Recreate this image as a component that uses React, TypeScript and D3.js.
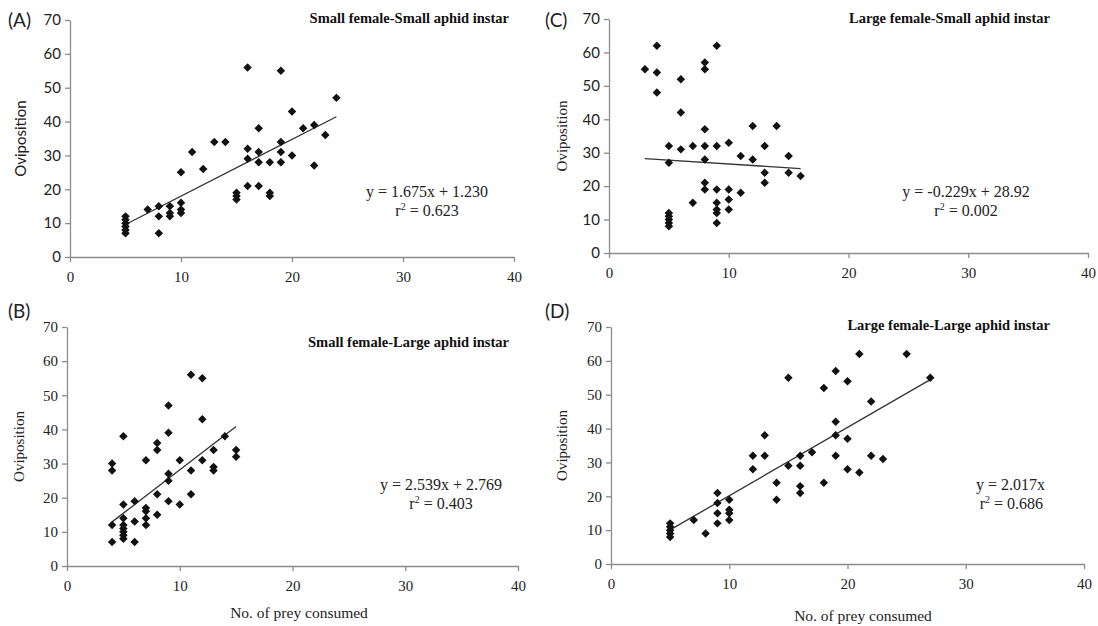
import React, { useEffect, useRef } from 'react';
import * as d3 from 'd3';

// points as [prey consumed, oviposition]
const pointsA = [
  [5, 12], [5, 11], [5, 10], [5, 9], [5, 8], [5, 7], [7, 14], [8, 15], [8, 12], [8, 7],
  [9, 15], [9, 13], [9, 12], [10, 16], [10, 14], [10, 13], [10, 25], [11, 31], [12, 26],
  [13, 34], [14, 34], [15, 19], [15, 18], [15, 17], [16, 56], [16, 32], [16, 29], [16, 21],
  [17, 38], [17, 31], [17, 28], [17, 21], [18, 28], [18, 19], [18, 18], [19, 55], [19, 34],
  [19, 31], [19, 28], [20, 43], [20, 30], [21, 38], [22, 39], [22, 27], [23, 36], [24, 47],
];
const pointsB = [
  [4, 30], [4, 28], [4, 12], [4, 7], [5, 38], [5, 18], [5, 14], [5, 12], [5, 11], [5, 10],
  [5, 9], [5, 8], [6, 19], [6, 13], [6, 7], [7, 31], [7, 17], [7, 16], [7, 14], [7, 12],
  [8, 36], [8, 34], [8, 21], [8, 15], [9, 47], [9, 39], [9, 27], [9, 25], [9, 19], [10, 31],
  [10, 18], [11, 56], [11, 28], [11, 21], [12, 55], [12, 43], [12, 31], [13, 34], [13, 29],
  [13, 28], [14, 38], [15, 34], [15, 32],
];
const pointsC = [
  [3, 55], [4, 62], [4, 54], [4, 48], [5, 32], [5, 27], [5, 12], [5, 11], [5, 10], [5, 9],
  [5, 8], [6, 52], [6, 42], [6, 31], [7, 32], [7, 15], [8, 57], [8, 55], [8, 37], [8, 32],
  [8, 28], [8, 21], [8, 19], [9, 62], [9, 32], [9, 19], [9, 15], [9, 13], [9, 12], [9, 9],
  [10, 33], [10, 19], [10, 16], [10, 13], [11, 29], [11, 18], [12, 38], [12, 28], [13, 32],
  [13, 24], [13, 21], [14, 38], [15, 29], [15, 24], [16, 23],
];
const pointsD = [
  [5, 12], [5, 11], [5, 10], [5, 9], [5, 8], [7, 13], [8, 9], [9, 21], [9, 18], [9, 15],
  [9, 12], [10, 19], [10, 16], [10, 15], [10, 13], [12, 32], [12, 28], [13, 38], [13, 32],
  [14, 24], [14, 19], [15, 55], [15, 29], [16, 32], [16, 29], [16, 23], [16, 21], [17, 33],
  [18, 52], [18, 24], [19, 57], [19, 42], [19, 38], [19, 32], [20, 54], [20, 37], [20, 28],
  [21, 62], [21, 27], [22, 48], [22, 32], [23, 31], [25, 62], [27, 55],
];

// trend lines: slope, intercept, x range
const fitA = { slope: 1.675, intercept: 1.23, from: 5, to: 24 };
const fitB = { slope: 2.539, intercept: 2.769, from: 4, to: 15 };
const fitC = { slope: -0.229, intercept: 28.92, from: 3, to: 16 };
const fitD = { slope: 2.017, intercept: 0, from: 5, to: 27 };

const xTicks = [0, 10, 20, 30, 40];
const yTicks = [0, 10, 20, 30, 40, 50, 60, 70];

const SERIF = '"Liberation Serif", "Times New Roman", serif';
const SANS = 'Lato, "Liberation Sans", sans-serif';

const Panel = ({ letter, title, points, fit, eq, r2, box, yFont, ovFont, showXLabel, layout }) => {
  const xRef = useRef(null);
  const yRef = useRef(null);

  const xScale = d3.scaleLinear().domain([0, 40]).range([box.left, box.right]);
  const yScale = d3.scaleLinear().domain([0, 70]).range([box.bottom, box.top]);

  useEffect(() => {
    const xAxis = d3.axisBottom(xScale).tickValues(xTicks).tickSize(5).tickSizeOuter(0).tickPadding(9);
    const yAxis = d3.axisLeft(yScale).tickValues(yTicks).tickSize(5).tickSizeOuter(0).tickPadding(4);
    const gx = d3.select(xRef.current).call(xAxis).attr('font-family', SERIF);
    const gy = d3.select(yRef.current).call(yAxis).attr('font-family', yFont);
    [gx, gy].forEach(g => {
      g.select('.domain').attr('stroke', '#8c8c8c').attr('stroke-width', 1.3);
      g.selectAll('.tick line').attr('stroke', '#8c8c8c').attr('stroke-width', 1.3);
      g.selectAll('.tick text').attr('fill', '#222').attr('font-size', 15);
    });
    gx.selectAll('.tick text').style('font-family', SERIF);
    gy.selectAll('.tick text').style('font-family', yFont);
  });

  const diamond = d3.symbol(d3.symbolSquare, 36)();
  const line = d3
    .line()
    .x(d => xScale(d))
    .y(d => yScale(fit.slope * d + fit.intercept));

  return (
    <g>
      <text x={layout.letterX} y={layout.letterY} fontFamily={SANS} fontSize={19} fill='#222'>
        {letter}
      </text>
      <text
        transform={`translate(${layout.ovX}, ${(box.top + box.bottom) / 2}) rotate(-90)`}
        textAnchor='middle'
        style={{ fontFamily: ovFont }}
        fontSize={15}
        fill='#222'
      >
        Oviposition
      </text>
      <text x={layout.titleX} y={layout.titleY} textAnchor='end' fontFamily={SERIF} fontWeight='bold' fontSize={14.5} fill='#111'>
        {title}
      </text>
      <g ref={xRef} transform={`translate(0, ${box.bottom})`} />
      <g ref={yRef} transform={`translate(${box.left}, 0)`} />
      <path d={line([fit.from, fit.to])} stroke='#333' strokeWidth={1.3} fill='none' />
      {points.map((d, i) => (
        <path
          key={`pt-${i}`}
          d={diamond}
          transform={`translate(${xScale(d[0])}, ${yScale(d[1])}) rotate(45)`}
          fill='#111'
        />
      ))}
      <text x={layout.eqX} y={layout.eqY} textAnchor={layout.eqAnchor} fontFamily={SERIF} fontSize={16} fill='#222'>
        {eq}
      </text>
      <text x={layout.r2X} y={layout.eqY + 19} textAnchor={layout.eqAnchor} fontFamily={SERIF} fontSize={16} fill='#222'>
        r<tspan fontSize={10} dy={-6}>2</tspan>
        <tspan dy={6}> = {r2}</tspan>
      </text>
      {showXLabel && (
        <text x={layout.xLabelX} y={layout.xLabelY} textAnchor='middle' style={{ fontFamily: SERIF }} fontSize={15.5} fill='#222'>
          No. of prey consumed
        </text>
      )}
    </g>
  );
};

const App = () => {
  return (
    <svg width={1098} height={626} style={{ position: 'absolute', left: 0, top: 0, background: '#fff' }}>
      <Panel
        letter='(A)'
        title='Small female-Small aphid instar'
        points={pointsA}
        fit={fitA}
        eq='y = 1.675x + 1.230'
        r2='0.623'
        box={{ left: 70, right: 514, top: 20, bottom: 257 }}
        yFont={SANS}
        ovFont={SANS}
        showXLabel={false}
        layout={{ letterX: 8, letterY: 27, ovX: 26, titleX: 509, titleY: 23, eqX: 427, eqY: 197, eqAnchor: 'middle', r2X: 427 }}
      />
      <Panel
        letter='(C)'
        title='Large female-Small aphid instar'
        points={pointsC}
        fit={fitC}
        eq='y = -0.229x + 28.92'
        r2='0.002'
        box={{ left: 609, right: 1088, top: 19, bottom: 253 }}
        yFont={SANS}
        ovFont={SERIF}
        showXLabel={false}
        layout={{ letterX: 545, letterY: 27, ovX: 567, titleX: 1050, titleY: 23, eqX: 966, eqY: 197, eqAnchor: 'middle', r2X: 966 }}
      />
      <Panel
        letter='(B)'
        title='Small female-Large aphid instar'
        points={pointsB}
        fit={fitB}
        eq='y = 2.539x + 2.769'
        r2='0.403'
        box={{ left: 67, right: 518, top: 327, bottom: 566 }}
        yFont={SERIF}
        ovFont={SERIF}
        showXLabel
        layout={{ letterX: 8, letterY: 318, ovX: 24, titleX: 509, titleY: 347, eqX: 441, eqY: 490, eqAnchor: 'middle', r2X: 441, xLabelX: 299, xLabelY: 618 }}
      />
      <Panel
        letter='(D)'
        title='Large female-Large aphid instar'
        points={pointsD}
        fit={fitD}
        eq='y = 2.017x'
        r2='0.686'
        box={{ left: 611, right: 1084, top: 327, bottom: 564 }}
        yFont={SERIF}
        ovFont={SERIF}
        showXLabel
        layout={{ letterX: 545, letterY: 318, ovX: 567, titleX: 1050, titleY: 330, eqX: 1045, eqY: 490, eqAnchor: 'end', r2X: 1043, xLabelX: 863, xLabelY: 621 }}
      />
    </svg>
  );
};

export default App;
